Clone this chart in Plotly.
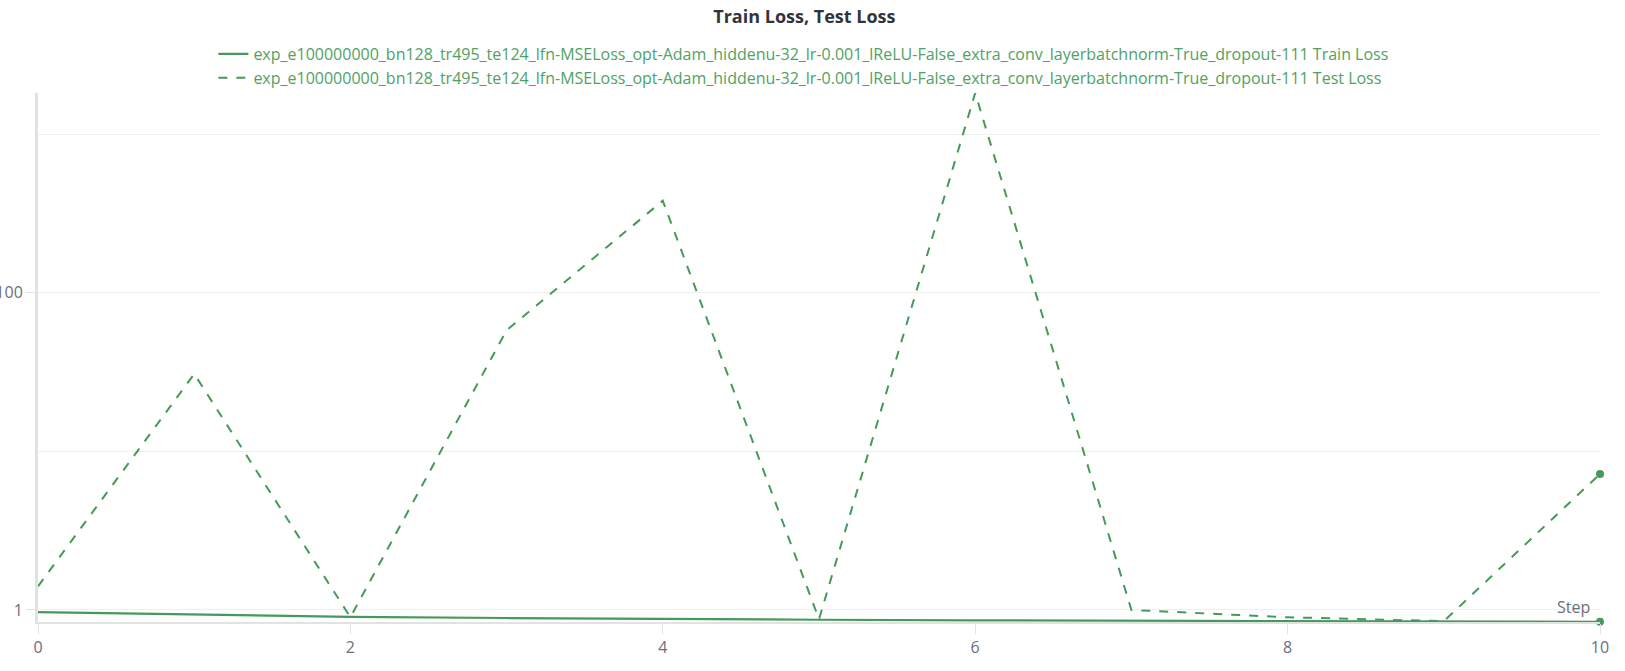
import plotly.graph_objects as go

steps = [0, 1, 2, 3, 4, 5, 6, 7, 8, 9, 10]
train_loss = [0.97, 0.935, 0.905, 0.89, 0.875, 0.868, 0.86, 0.855, 0.85, 0.847, 0.843]
test_loss = [1.41, 30.8, 0.9, 58, 380, 0.875, 1815, 1.0, 0.9, 0.85, 7.2]

run = "exp_e100000000_bn128_tr495_te124_lfn-MSELoss_opt-Adam_hiddenu-32_lr-0.001_lReLU-False_extra_conv_layerbatchnorm-True_dropout-111"
series_names = [run + " Train Loss", run + " Test Loss"]

y_ticks = [1, 100]
y_ticktext = ["1", "100"]
y_minor = [10, 1000]
x_ticks = [0, 2, 4, 6, 8, 10]

green = "#45995a"
grey_text = "#6b6e7b"

fig = go.Figure()

fig.add_trace(go.Scatter(x=steps, y=train_loss, name=series_names[0],
                         mode="lines", line=dict(color=green, width=2.2)))
fig.add_trace(go.Scatter(x=steps, y=test_loss, name=series_names[1],
                         mode="lines", line=dict(color=green, width=2, dash="dash")))

# dot on the last logged point of each series
fig.add_trace(go.Scatter(x=[steps[-1], steps[-1]], y=[train_loss[-1], test_loss[-1]],
                         mode="markers", cliponaxis=False, showlegend=False,
                         marker=dict(size=8, color=green)))

fig.update_layout(
    width=1625, height=671,
    paper_bgcolor="white", plot_bgcolor="white",
    font=dict(family="Open Sans", color=grey_text),
    title=dict(text="<b>Train Loss, Test Loss</b>", x=0.495, xanchor="center",
               y=1 - 17 / 671, yanchor="middle",
               font=dict(size=18, color="#33343b", family="Open Sans")),
    legend=dict(orientation="v", x=0.49, xanchor="center",
                y=1 - 37 / 671, yanchor="top", yref="container",
                font=dict(size=16, color="#4fa265"), itemwidth=30,
                tracegroupgap=0, bgcolor="rgba(0,0,0,0)"),
    margin=dict(l=38, r=25, t=93, b=49, autoexpand=False),
    showlegend=True,
)

fig.update_xaxes(range=[0, 10], tickvals=x_ticks, showgrid=False,
                 showline=True, linecolor="#e2e2e2", linewidth=2,
                 ticks="outside", ticklen=10, tickcolor="#e2e2e2",
                 tickfont=dict(size=16, color=grey_text), zeroline=False)
fig.update_yaxes(type="log", range=[-0.0757, 3.259],
                 tickvals=y_ticks, ticktext=y_ticktext,
                 showgrid=True, gridcolor="#efefef", gridwidth=1,
                 minor=dict(tickvals=y_minor, showgrid=True, gridcolor="#efefef", ticks=""),
                 showline=True, linecolor="#e2e2e2", linewidth=3,
                 ticks="outside", ticklen=9, tickcolor="#e2e2e2",
                 tickfont=dict(size=16, color=grey_text), zeroline=False,
                 automargin=False)

fig.add_annotation(text="Step", xref="paper", yref="paper", x=1, y=0,
                   xanchor="right", yanchor="bottom", xshift=-8, yshift=2,
                   showarrow=False, font=dict(size=16, color=grey_text))

fig.write_html("out.html", config={"displayModeBar": False},
               post_script="document.body.style.margin='0px';")
